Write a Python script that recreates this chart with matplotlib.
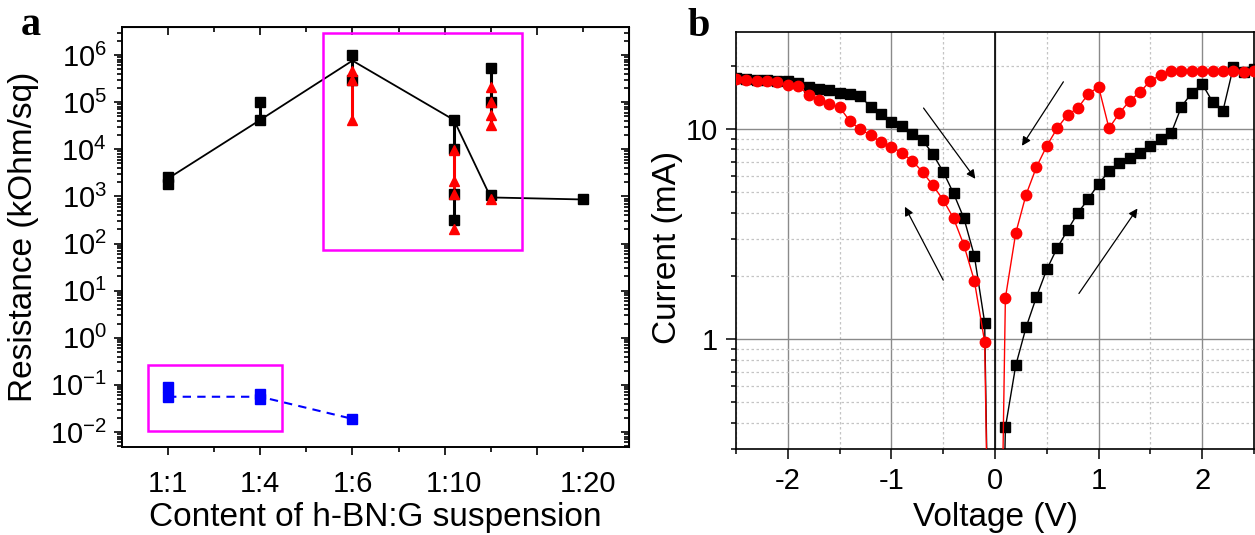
import numpy as np
import matplotlib
matplotlib.use('Agg')
import matplotlib.pyplot as plt
from matplotlib.patches import Rectangle
from matplotlib.ticker import FixedLocator, NullFormatter, LogLocator, FuncFormatter, MultipleLocator

plt.rcParams['font.family'] = ['Liberation Sans', 'DejaVu Sans']
plt.rcParams['mathtext.fontset'] = 'custom'
plt.rcParams['mathtext.rm'] = 'Liberation Sans'
plt.rcParams['mathtext.it'] = 'Liberation Sans:italic'

# ---------------- panel a: resistance vs content ----------------
content_labels = ['1:1', '1:4', '1:6', '1:10', '1:20']
content_label_x = [1, 2, 3, 4.1, 5.55]

line_x = [1, 2, 3, 4.1, 4.5, 5.5]
line_r = [2400, 4.2e4, 7.6e5, 4.2e4, 950, 860]

sq_x = [1, 1, 2, 2, 3, 3, 4.1, 4.1, 4.1, 4.1, 4.5, 4.5, 4.5, 5.5]
sq_r = [2600, 1800, 1e5, 4.2e4, 1e6, 3e5, 4.2e4, 1.03e4, 1.1e3, 310, 5.3e5, 1e5, 1.05e3, 860]

tri_x = [3, 3, 3, 4.1, 4.1, 4.1, 4.1, 4.5, 4.5, 4.5, 4.5, 4.5]
tri_r = [4.5e5, 3e5, 4.2e4, 9.6e3, 2.1e3, 1.1e3, 200, 2.1e5, 1e5, 5.3e4, 3.2e4, 860]

# vertical spread bars
blk_bar_x = [2, 3, 4.1, 4.1, 4.5]
blk_bar_lo = [4.2e4, 3e5, 1e4, 310, 3.2e4]
blk_bar_hi = [1e5, 1e6, 4.2e4, 1.1e3, 5.3e5]
red_bar_x = [3, 4.1, 4.5]
red_bar_lo = [4.2e4, 1.1e3, 3.2e4]
red_bar_hi = [4.5e5, 9.6e3, 2.1e5]

blue_x = [1, 2, 3]
blue_r = [0.056, 0.056, 0.019]
blue_sq_x = [1, 1, 2, 2, 3]
blue_sq_r = [0.092, 0.056, 0.065, 0.049, 0.019]

# ---------------- panel b: I-V loop ----------------
voltage = np.linspace(-2.5, 2.5, 51)
current_black = [17.5, 17.3, 17.1, 17.1, 16.9,
                 16.9, 16.6, 15.8, 15.6, 15.3,
                 14.9, 14.7, 14.4, 12.7, 11.8,
                 10.8, 10.3, 9.47, 8.87, 7.6,
                 6.26, 4.94, 3.76, 2.5, 1.2,
                 0.001,
                 0.38, 0.75, 1.14, 1.59, 2.15,
                 2.72, 3.3, 4.0, 4.64, 5.5,
                 6.3, 6.9, 7.3, 7.66, 8.3,
                 9.0, 9.55, 12.8, 14.9, 16.4,
                 13.5, 12.2, 19.7, 18.7, 19.3]
current_red = [17.4, 17.1, 16.97, 16.9, 16.8,
               16.2, 16.0, 14.6, 13.7, 13.15,
               12.7, 10.9, 9.97, 9.36, 8.65,
               8.24, 7.7, 7.07, 6.26, 5.4,
               4.6, 3.76, 2.8, 1.9, 0.97,
               0.001,
               1.57, 3.2, 4.88, 6.6, 8.33,
               10.1, 11.7, 12.6, 14.7, 15.9,
               10.1, 11.9, 13.65, 15.0, 17.0,
               18.1, 19.0, 19.0, 19.0, 19.0,
               19.0, 19.0, 19.0, 18.8, 19.0]

# sweep direction arrows (tail -> head)
arrows = [((-0.69, 12.6), (-0.19, 5.8)),
          ((-0.50, 1.91), (-0.87, 4.27)),
          ((0.66, 16.8), (0.26, 8.33)),
          ((0.81, 1.65), (1.375, 4.19))]

fig = plt.figure(figsize=(12.55, 5.35), dpi=100)
ax = fig.add_axes([0.0972, 0.1645, 0.4040, 0.7850])
bx = fig.add_axes([0.5865, 0.1607, 0.4127, 0.7795])

# ---- panel a ----
ax.set_yscale('log')
ax.plot(line_x, line_r, color='black', lw=1.3, zorder=3)
ax.vlines(red_bar_x, red_bar_lo, red_bar_hi, color='red', lw=2.2, zorder=2)
ax.vlines(blk_bar_x, blk_bar_lo, blk_bar_hi, color='black', lw=2.2, zorder=3)
ax.plot(sq_x, sq_r, 's', color='black', ms=7, zorder=4)
ax.plot(tri_x, tri_r, '^', color='red', ms=7.5, zorder=5)
ax.plot(blue_x, blue_r, color='blue', lw=1.5, ls=(0, (4, 3)), zorder=3)
ax.plot(blue_sq_x, blue_sq_r, 's', color='blue', ms=7, zorder=4)

ax.add_patch(Rectangle((2.676, 10 ** 1.86), 4.838 - 2.676, 10 ** 6.467 - 10 ** 1.86,
                       fill=False, ec='#ff00ff', lw=1.8, zorder=6))
ax.add_patch(Rectangle((0.784, 10 ** -1.98), 2.232 - 0.784, 10 ** -0.576 - 10 ** -1.98,
                       fill=False, ec='#ff00ff', lw=1.8, zorder=6))

ax.set_xlim(0.5, 6.0)
ax.set_ylim(10 ** -2.318, 10 ** 6.594)
ax.xaxis.set_major_locator(FixedLocator([1, 2, 3, 4, 5]))
ax.xaxis.set_minor_locator(FixedLocator([1.5, 2.5, 3.5, 4.5, 5.5]))
ax.tick_params(axis='x', which='both', labelbottom=False)
ax.yaxis.set_major_locator(LogLocator(base=10, numticks=20))
ax.yaxis.set_minor_locator(LogLocator(base=10, subs=np.arange(2, 10), numticks=20))
ax.yaxis.set_minor_formatter(NullFormatter())
ax.yaxis.set_major_formatter(FuncFormatter(lambda v, p: r'$\mathregular{10^{%d}}$' % round(np.log10(v))))
ax.tick_params(which='both', direction='out', width=1.2, labelsize=21, top=False, right=False)
ax.tick_params(which='major', length=6)
ax.tick_params(which='minor', length=3.5)
ax.tick_params(axis='y', pad=5)
for s in ax.spines.values():
    s.set_linewidth(1.4)

for lx, lab in zip(content_label_x, content_labels):
    ax.text(lx, -0.055, lab, transform=ax.get_xaxis_transform(), ha='center', va='top', fontsize=21)

sx = ax.secondary_xaxis('top')
sx.xaxis.set_major_locator(FixedLocator([1, 2, 3, 4, 5]))
sx.xaxis.set_minor_locator(FixedLocator([1.5, 2.5, 3.5, 4.5, 5.5]))
sx.tick_params(which='both', direction='in', labeltop=False, width=1.2)
sx.tick_params(which='major', length=6)
sx.tick_params(which='minor', length=3.5)
sy = ax.secondary_yaxis('right')
sy.tick_params(which='both', direction='in', labelright=False, width=1.2)
sy.tick_params(which='major', length=6)
sy.tick_params(which='minor', length=3.5)

ax.set_ylabel('Resistance (kOhm/sq)', fontsize=24)
ax.yaxis.set_label_coords(-0.164, 0.5)
ax.set_xlabel('Content of h-BN:G suspension', fontsize=24)
ax.xaxis.set_label_coords(0.5, -0.131)

# ---- panel b ----
bx.set_yscale('log')
bx.set_xlim(-2.5, 2.5)
bx.set_ylim(0.3, 29)
bx.xaxis.set_major_locator(MultipleLocator(1))
bx.xaxis.set_minor_locator(MultipleLocator(0.5))
bx.xaxis.set_major_formatter(FuncFormatter(lambda v, p: '%d' % round(v)))
bx.yaxis.set_major_locator(FixedLocator([1, 10]))
bx.yaxis.set_minor_locator(LogLocator(base=10, subs=np.arange(2, 10), numticks=20))
bx.yaxis.set_major_formatter(FuncFormatter(lambda v, p: '%g' % v))
bx.yaxis.set_minor_formatter(NullFormatter())
bx.grid(which='major', color='#8a8a8a', lw=1.0, ls='-')
bx.grid(which='minor', color='#c4c4c4', lw=0.9, ls=(0, (2, 2)))
bx.axvline(0, color='black', lw=1.2, zorder=1.5)
bx.set_axisbelow(True)

bx.plot(voltage, current_black, '-s', color='black', lw=1.0, ms=7, zorder=3)
bx.plot(voltage, current_red, '-o', color='red', lw=1.0, ms=7.5, zorder=4)

for tail, head in arrows:
    bx.annotate('', xy=head, xytext=tail,
                arrowprops=dict(arrowstyle='-|>', color='black', lw=0.9, mutation_scale=13,
                                shrinkA=0, shrinkB=0))

bx.tick_params(which='both', direction='out', width=1.1, labelsize=21, top=False, right=False)
bx.tick_params(which='major', length=7)
bx.tick_params(which='minor', length=3.5)
bx.tick_params(axis='x', pad=6)
bx.tick_params(axis='y', pad=6)
for s in bx.spines.values():
    s.set_linewidth(1.2)

bx.set_xlabel('Voltage (V)', fontsize=24)
bx.xaxis.set_label_coords(0.5, -0.127)
bx.set_ylabel('Current (mA)', fontsize=24)
bx.yaxis.set_label_coords(-0.102, 0.484)

fig.text(21 / 1255, 1 - 35 / 535, 'a', fontsize=29, fontweight='bold', family='Liberation Serif',
         ha='left', va='baseline')
fig.text(688 / 1255, 1 - 36 / 535, 'b', fontsize=29, fontweight='bold', family='Liberation Serif',
         ha='left', va='baseline')

fig.savefig('out.png', dpi=100)
